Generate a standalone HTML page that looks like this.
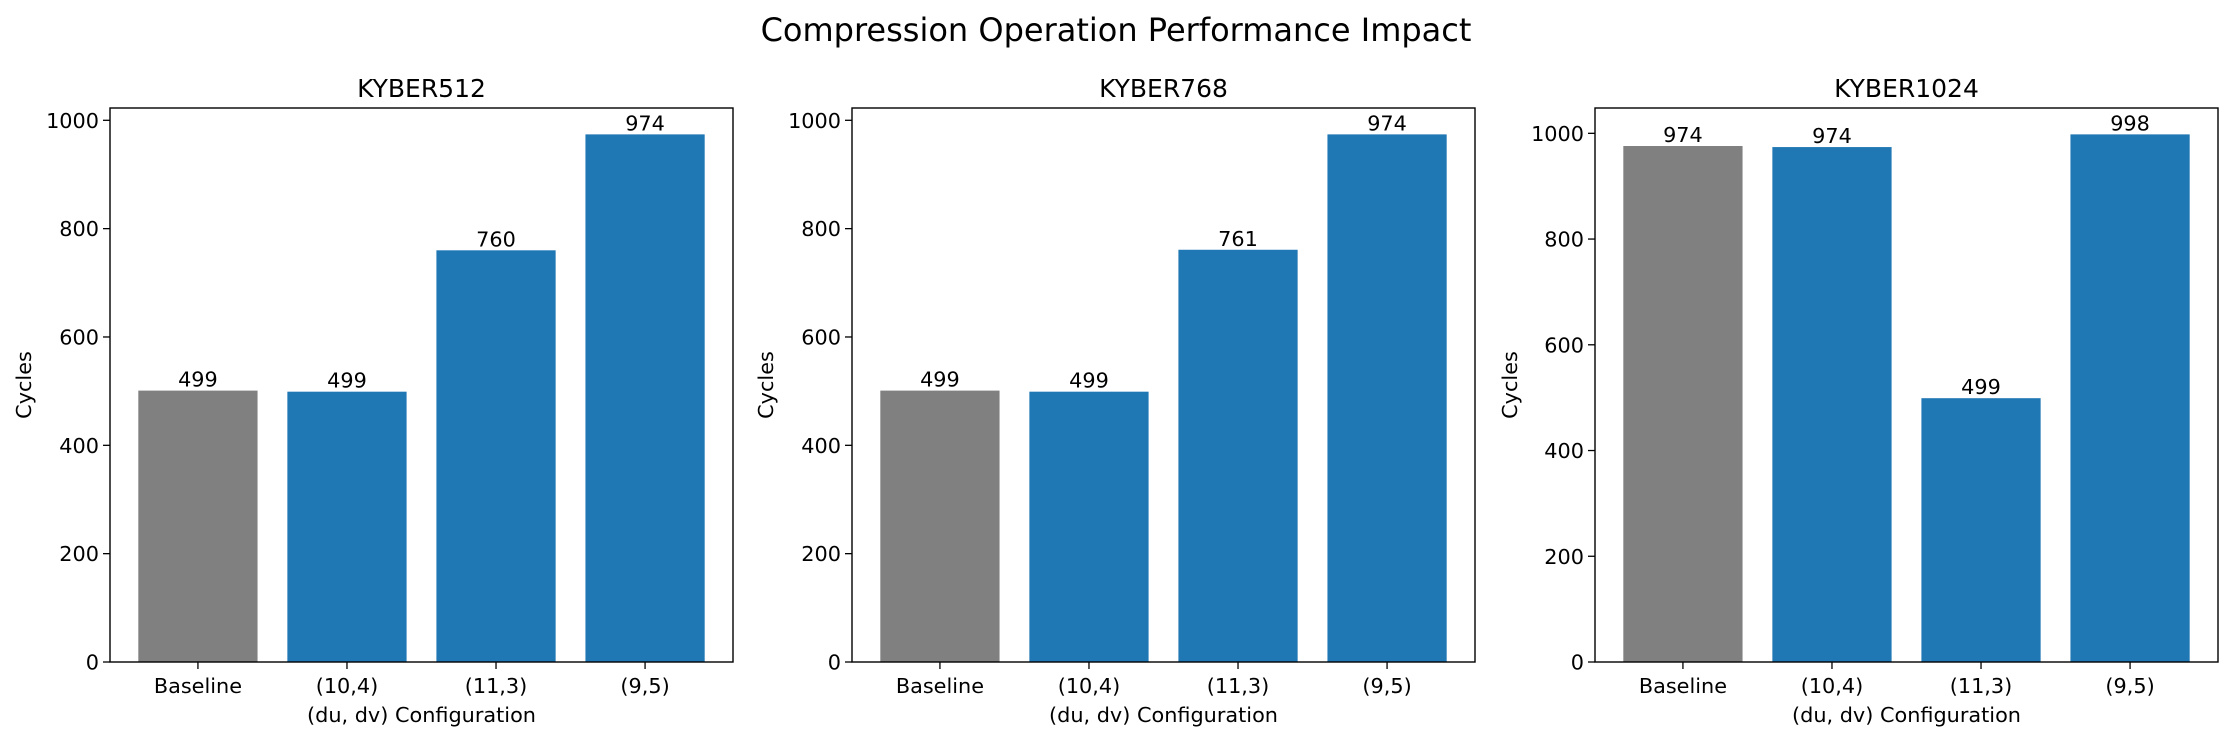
<!DOCTYPE html>
<html><head><meta charset="utf-8">
<style>
html,body{margin:0;padding:0;background:#fff;}
svg{display:block;font-family:"DejaVu Sans","Liberation Sans",sans-serif;}
</style></head>
<body>
<svg id="fig" width="2233" height="740" viewBox="0 0 2233 740" xmlns="http://www.w3.org/2000/svg">
<text x="1116" y="41" font-size="32" text-anchor="middle" fill="#000">Compression Operation Performance Impact</text>
</svg>
<script>
const categories = ["Baseline", "(10,4)", "(11,3)", "(9,5)"];
const panelTitles = ["KYBER512", "KYBER768", "KYBER1024"];
const values512 = [501, 499, 760, 974];
const values768 = [501, 499, 761, 974];
const values1024 = [976, 974, 499, 998];
const labels512 = ["499", "499", "760", "974"];
const labels768 = ["499", "499", "761", "974"];
const labels1024 = ["974", "974", "499", "998"];
const yTicks = [0, 200, 400, 600, 800, 1000];

const allValues = [values512, values768, values1024];
const allLabels = [labels512, labels768, labels1024];
const panelLeft = [110, 852, 1595];
const panelW = 623, axTop = 108, axBottom = 662;
const NS = "http://www.w3.org/2000/svg";
const svg = document.getElementById("fig");
function mk(tag, attrs, parent) {
  const e = document.createElementNS(NS, tag);
  for (const k in attrs) e.setAttribute(k, attrs[k]);
  (parent || svg).appendChild(e);
  return e;
}
allValues.forEach((vals, p) => {
  const g = mk("g", {});
  
  
  const L = panelLeft[p];
  const ymax = Math.max(...vals) * 1.05;
  const n = vals.length;
  const xmin = -0.4 - 0.05 * (n - 0.2), xmax = n - 1 + 0.4 + 0.05 * (n - 0.2);
  const xs = v => L + (v - xmin) / (xmax - xmin) * panelW;
  const ys = v => axBottom - v / ymax * (axBottom - axTop);
  vals.forEach((v, i) => {
    const r = mk("rect", {x: xs(i - 0.4), y: ys(v), width: xs(i + 0.4) - xs(i - 0.4), height: axBottom - ys(v), fill: i === 0 ? "#808080" : "#1f77b4"}, g);
    
    
    const t = mk("text", {x: xs(i), y: ys(v) - 4, "font-size": 20.8, "text-anchor": "middle"}, g);
    t.textContent = allLabels[p][i];
    
    
    mk("line", {x1: xs(i), x2: xs(i), y1: axBottom, y2: axBottom + 7, stroke: "#000", "stroke-width": 1.3}, g);
    const xl = mk("text", {x: xs(i), y: axBottom + 31, "font-size": 20.8, "text-anchor": "middle"}, g);
    xl.textContent = categories[i];
    
    
  });
  yTicks.forEach(t => {
    if (t > ymax) return;
    mk("line", {x1: L - 7, x2: L, y1: ys(t), y2: ys(t), stroke: "#000", "stroke-width": 1.3}, g);
    const yl = mk("text", {x: L - 11, y: ys(t) + 7.5, "font-size": 20.8, "text-anchor": "end"}, g);
    yl.textContent = t;
    
    
  });
  const fr = mk("rect", {x: L, y: axTop, width: panelW, height: axBottom - axTop, fill: "none", stroke: "#000", "stroke-width": 1.4}, g);
  
  
  const tt = mk("text", {x: L + panelW / 2, y: 97, "font-size": 25, "text-anchor": "middle"}, g);
  tt.textContent = panelTitles[p];
  
  
  const xt = mk("text", {x: L + panelW / 2, y: 722, "font-size": 20.8, "text-anchor": "middle"}, g);
  xt.textContent = "(du, dv) Configuration";
  
  
  const yx = L - (p === 2 ? 78 : 79), yy = (axTop + axBottom) / 2;
  const yt = mk("text", {x: yx, y: yy, "font-size": 20.8, "text-anchor": "middle", transform: "rotate(-90 " + yx + " " + yy + ")"}, g);
  yt.textContent = "Cycles";
  
  
});
</script>
</body></html>
